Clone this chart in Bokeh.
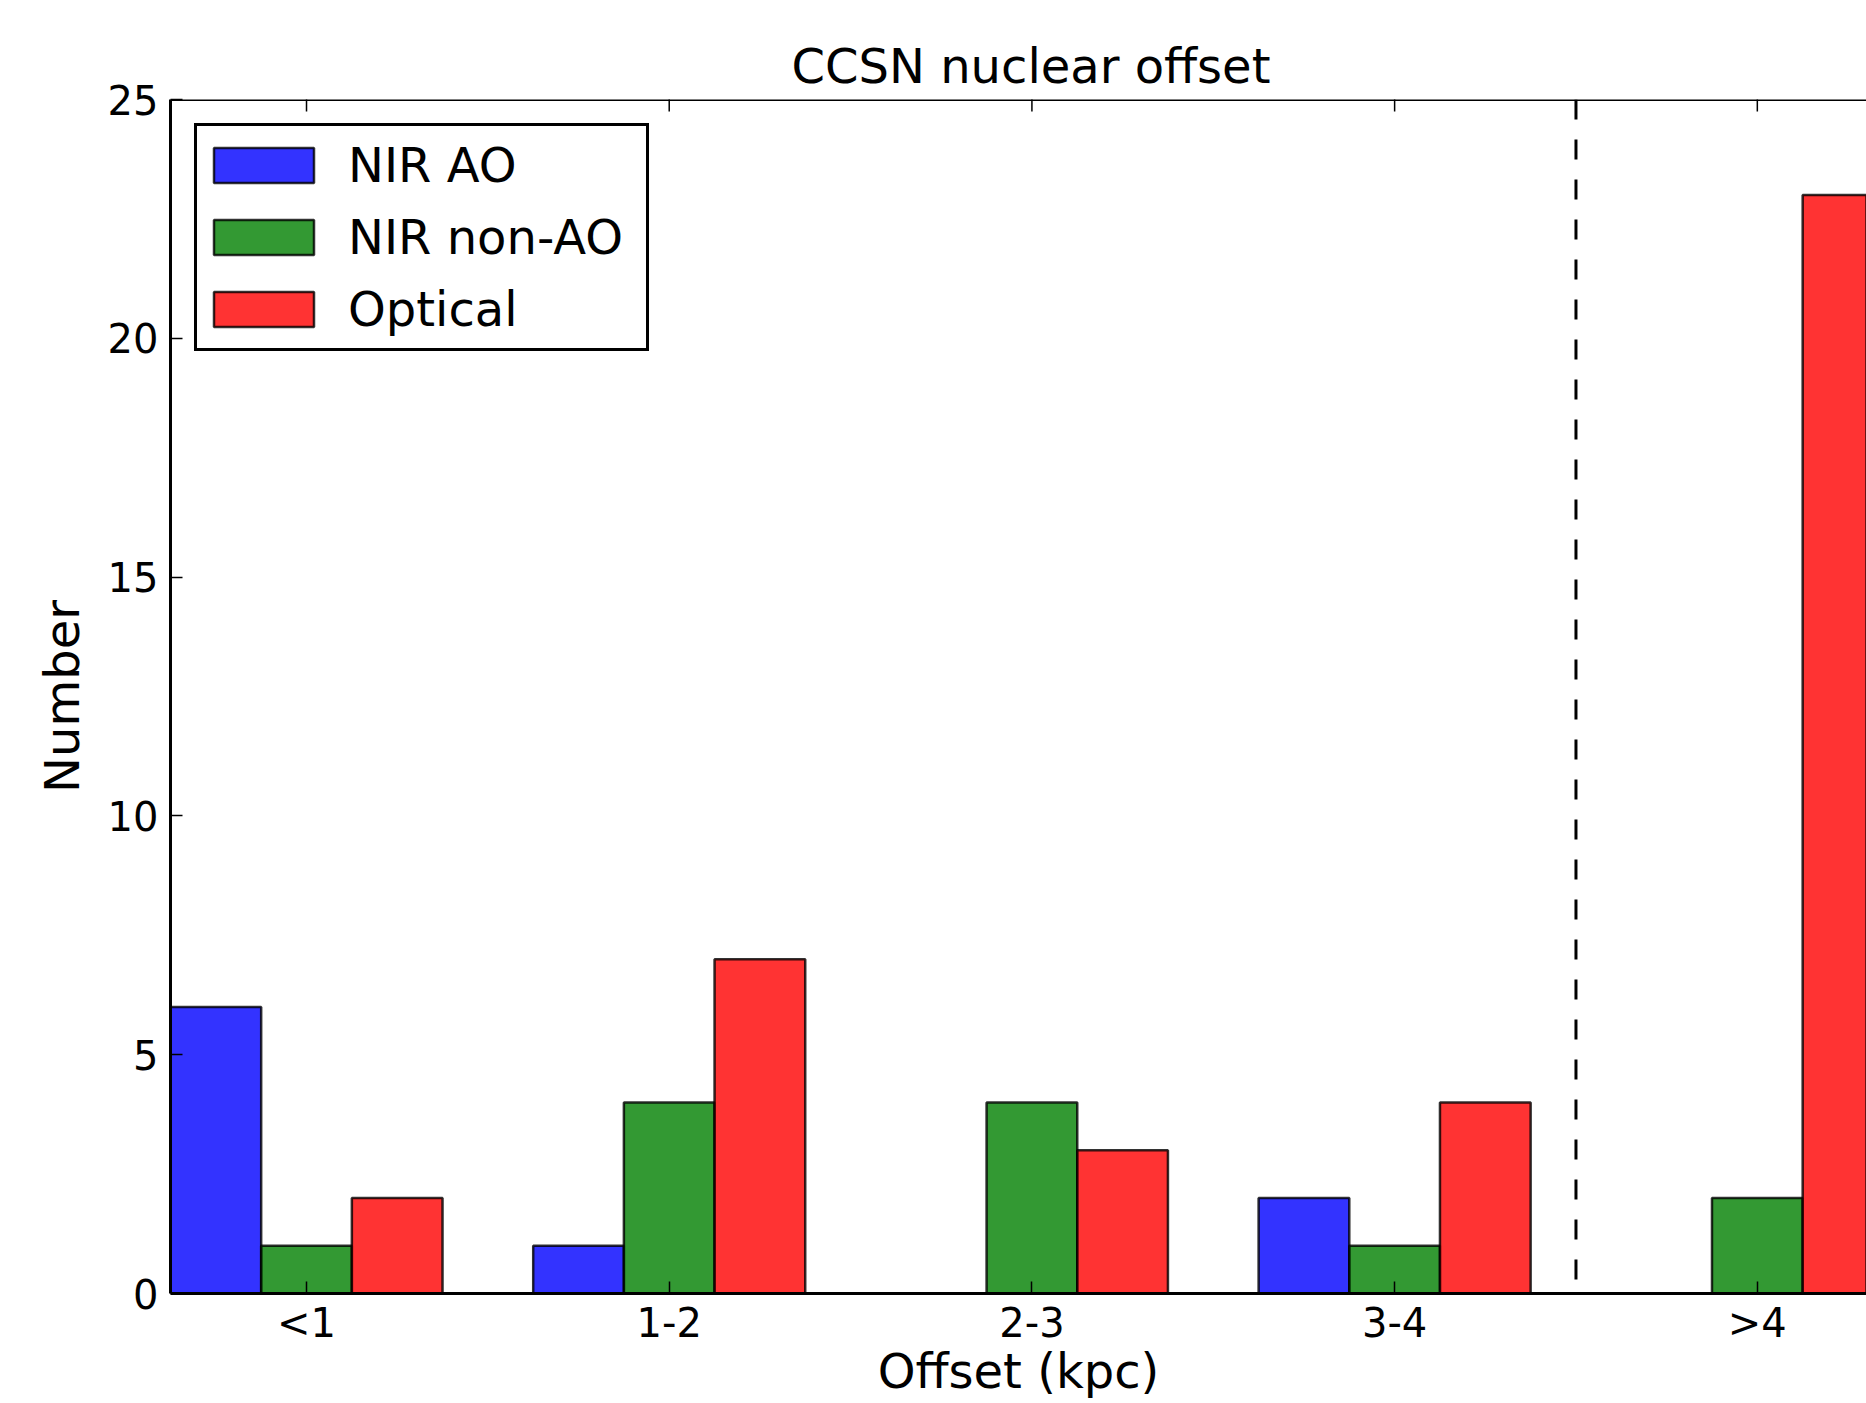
import math
from bokeh.plotting import figure
from bokeh.models import (Range1d, FixedTicker, Span,
                          Legend, LegendItem, ColumnDataSource)
from bokeh.transform import dodge
from bokeh.embed import file_html
from bokeh.resources import INLINE

# ---- data ----
categories = ["<1", "1-2", "2-3", "3-4", ">4"]
nir_ao = [6, 1, 0, 2, 0]
nir_non_ao = [1, 4, 4, 1, 2]
optical = [2, 7, 3, 4, 23]
series_names = ["NIR AO", "NIR non-AO", "Optical"]
series_colors = ["#0000ff", "#008000", "#ff0000"]
y_ticks = [0, 5, 10, 15, 20, 25]
title_text = "CCSN nuclear offset"
x_label = "Offset (kpc)"
y_label = "Number"

FONT = "DejaVu Sans"
BAR_W = 0.25
idx = list(range(len(categories)))
y_top = y_ticks[-1]

src = ColumnDataSource(dict(idx=idx, ao=nir_ao, nonao=nir_non_ao, opt=optical,
                            top=[y_top] * len(idx)))

p = figure(width=1866, height=1403,
           x_range=Range1d(-1.5 * BAR_W, 4.301), y_range=Range1d(0, y_top),
           output_backend="svg", toolbar_location=None,
           min_border_left=170, min_border_right=0,
           min_border_top=99, min_border_bottom=110,
           title=title_text)
p.outline_line_color = None
p.xgrid.grid_line_color = None
p.ygrid.grid_line_color = None
p.background_fill_color = "white"
p.border_fill_color = "white"

renderers = []
for off, field, col in zip([-BAR_W, 0.0, BAR_W], ["ao", "nonao", "opt"], series_colors):
    r = p.vbar(x=dodge("idx", off, range=p.x_range), top=field, width=BAR_W,
               source=src, fill_color=col, fill_alpha=0.8,
               line_color="black", line_alpha=0.8, line_width=2.5)
    renderers.append(r)

# divider between "3-4" and ">4"
p.add_layout(Span(location=(idx[3] + idx[4]) / 2, dimension="height",
                  line_color="black", line_width=3, line_dash="20 20"))

# top spine and inward top ticks (the half above the frame is clipped)
p.add_layout(Span(location=y_top, dimension="width",
                  line_color="black", line_width=3))
p.scatter(x="idx", y="top", source=src, marker="dash", size=24,
          angle=math.pi / 2, line_color="black", line_width=1.5)

# axes
xa = p.xaxis[0]
xa.ticker = FixedTicker(ticks=idx)
xa.major_label_overrides = {i: c for i, c in zip(idx, categories)}
ya = p.yaxis[0]
ya.ticker = FixedTicker(ticks=y_ticks)
for ax in (xa, ya):
    ax.axis_line_width = 3
    ax.axis_line_color = "black"
    ax.major_tick_in = 12
    ax.major_tick_out = 0
    ax.major_tick_line_width = 1.5
    ax.major_tick_line_color = "black"
    ax.minor_tick_line_color = None
    ax.major_label_text_font = FONT
    ax.major_label_text_font_size = "40px"
    ax.major_label_text_color = "black"
    ax.axis_label_text_font = FONT
    ax.axis_label_text_font_size = "48px"
    ax.axis_label_text_font_style = "normal"
    ax.axis_label_text_color = "black"
xa.major_label_standoff = 6
ya.major_label_standoff = 12
ya.axis_label = y_label
ya.axis_label_standoff = 15
xa.axis_label = x_label
xa.axis_label_standoff = -6

p.title.text_font = FONT
p.title.text_font_size = "48px"
p.title.text_font_style = "normal"
p.title.text_color = "black"
p.title.align = "left"
p.title.offset = 621
p.title.standoff = 12

legend = Legend(items=[LegendItem(label=n, renderers=[r])
                       for n, r in zip(series_names, renderers)],
                location="top_left", margin=24, padding=4, spacing=2,
                glyph_width=125, glyph_height=44, label_height=70,
                label_width=294, label_standoff=22, label_text_font=FONT,
                label_text_font_size="48px", label_text_color="black",
                border_line_color="black", border_line_width=3,
                border_line_alpha=1,
                background_fill_color="white", background_fill_alpha=1)
p.add_layout(legend)

open("out.html", "w").write(file_html(p, INLINE))
